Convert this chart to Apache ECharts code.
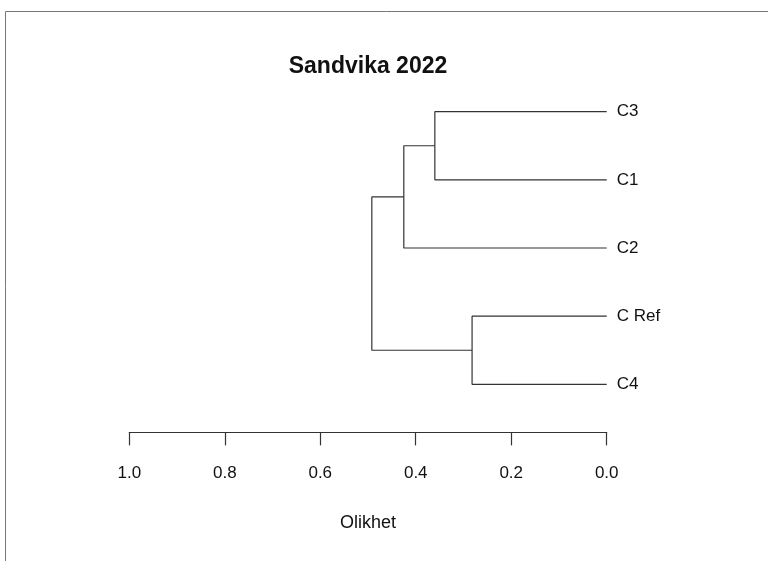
<!DOCTYPE html>
<html>
<head>
<meta charset="utf-8">
<script src="https://cdn.jsdelivr.net/npm/echarts@6/dist/echarts.min.js"></script>
<style>
  html, body { margin: 0; padding: 0; background: #fff; }
  #chart { width: 768px; height: 561px; }
</style>
</head>
<body>
<div id="chart"></div>
<script>
// Leaves of the dendrogram, top to bottom, with their vertical slot
const leafNames = ['C3', 'C1', 'C2', 'C Ref', 'C4'];
const leafSlots = [5, 4, 3, 2, 1];

// Agglomeration steps: merge i joins mergeLeft[i] and mergeRight[i] at mergeHeight[i]
const mergeLeft = ['C3', 'm1', 'C Ref', 'm2'];
const mergeRight = ['C1', 'C2', 'C4', 'm3'];
const mergeHeight = [0.360, 0.425, 0.282, 0.492];

// Dissimilarity axis ticks
const xTicks = [1.0, 0.8, 0.6, 0.4, 0.2, 0.0];

const titleText = 'Sandvika 2022';
const axisTitle = 'Olikhet';

const FONT = '"Liberation Sans", Arial, sans-serif';
const INK = '#333';
const TEXT = '#111';

// Node table: height and vertical position of every leaf and merge
const nodes = {};
leafNames.forEach((n, i) => { nodes[n] = { h: 0, y: leafSlots[i] }; });
mergeHeight.forEach((h, i) => {
  const a = nodes[mergeLeft[i]], b = nodes[mergeRight[i]];
  nodes['m' + (i + 1)] = { h: h, y: (a.y + b.y) / 2 };
});

// One bracket-shaped polyline per merge
const branchSeries = mergeHeight.map((h, i) => {
  const a = nodes[mergeLeft[i]], b = nodes[mergeRight[i]];
  return {
    type: 'line',
    showSymbol: false,
    silent: true,
    animation: false,
    lineStyle: { color: INK, width: 1.2 },
    data: [[a.h, a.y], [h, a.y], [h, b.y], [b.h, b.y]]
  };
});

// Leaf names written just right of each leaf tip
const leafLabelSeries = {
  type: 'scatter',
  symbolSize: 0,
  silent: true,
  animation: false,
  itemStyle: { opacity: 1 },
  data: leafNames.map((n, i) => ({ name: n, value: [0, leafSlots[i]] })),
  label: {
    show: true,
    position: 'right',
    distance: 10,
    formatter: '{b}',
    fontFamily: FONT,
    fontSize: 17,
    color: TEXT
  }
};

const chart = echarts.init(document.getElementById('chart'), null, { renderer: 'canvas' });
chart.setOption({
  backgroundColor: '#fff',
  animation: false,
  grid: { left: 129.3, right: 161.3, top: 77.6, bottom: 142.6, containLabel: false },
  xAxis: {
    type: 'value',
    inverse: true,
    min: 0,
    max: 1,
    interval: 0.2,
    position: 'bottom',
    offset: 14,
    splitLine: { show: false },
    axisLine: { show: true, lineStyle: { color: INK, width: 1.2 } },
    axisTick: { show: true, inside: false, length: 13, lineStyle: { color: INK, width: 1.2 } },
    axisLabel: {
      margin: 32,
      fontFamily: FONT,
      fontSize: 17,
      color: TEXT,
      formatter: v => {
        const t = xTicks.find(k => Math.abs(k - v) < 1e-9);
        return t === undefined ? '' : t.toFixed(1);
      }
    },
    name: axisTitle,
    nameLocation: 'middle',
    nameGap: 82,
    nameTextStyle: { fontFamily: FONT, fontSize: 18, color: TEXT }
  },
  yAxis: { type: 'value', min: 0.5, max: 5.5, show: false },
  graphic: [
    {
      type: 'polyline',
      silent: true,
      shape: { points: [[5.5, 561], [5.5, 11.5], [768, 11.5]] },
      style: { stroke: '#777', lineWidth: 1, fill: null }
    },
    {
      type: 'text',
      silent: true,
      x: 368,
      y: 67,
      style: {
        text: titleText,
        font: 'bold 23px ' + FONT,
        fill: TEXT,
        align: 'center',
        verticalAlign: 'middle'
      }
    }
  ],
  series: branchSeries.concat([leafLabelSeries])
});
</script>
</body>
</html>
